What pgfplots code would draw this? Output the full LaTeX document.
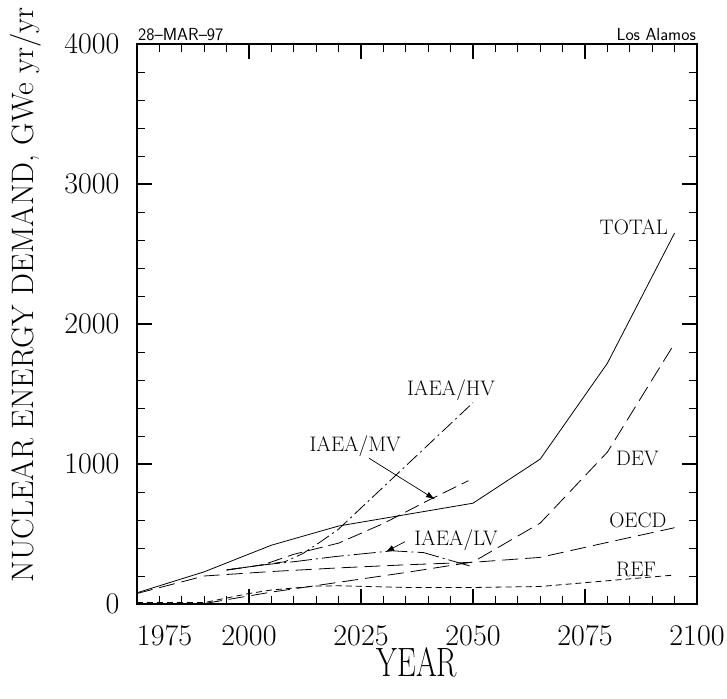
\documentclass[border=0pt]{standalone}
\usepackage{pgfplots}
\pgfplotsset{compat=1.18}
\usepackage{graphicx}
\usetikzlibrary{arrows.meta}
\newcommand\lab[1]{{\fontsize{21}{21}\selectfont #1}}
\begin{document}
\begin{tikzpicture}
\useasboundingbox (-137pt,-94pt) rectangle (590pt,604pt);
\begin{axis}[
  at={(0pt,0pt)}, anchor=south west,
  width=560pt, height=560pt, scale only axis,
  xmin=1975, xmax=2100, ymin=0, ymax=4000,
  xtick={1975,2000,2025,2050,2075,2100},
  xticklabels={\makebox[0pt][l]{1975},2000,2025,2050,2075,2100},
  ytick={0,1000,2000,3000,4000},
  minor x tick num=4, minor y tick num=4,
  major tick length=15pt, minor tick length=8pt,
  tick align=inside,
  major tick style={line width=1.3pt, black},
  minor tick style={line width=0.8pt, black},
  axis line style={line width=1.1pt},
  ticklabel style={font=\fontsize{30}{30}\selectfont},
  xticklabel style={yshift=-18pt},
  yticklabel style={xshift=-14pt},
  /pgf/number format/assume math mode=true,
  /pgf/number format/1000 sep={},
  scaled ticks=false,
  xlabel={\scalebox{0.73}[1]{\fontsize{41}{41}\selectfont YEAR}},
  xlabel style={at={(axis description cs:0.5,-0.105)}, anchor=center},
  ylabel={\fontsize{31}{31}\selectfont NUCLEAR ENERGY DEMAND, GWe yr/yr},
  ylabel style={at={(axis description cs:-0.198,0.552)}, anchor=center},
  clip=false,
]
% TOTAL
\addplot[black, line width=0.8pt] coordinates {
(1975,80) (1990,230) (2005,420) (2020,557) (2050,720) (2065,1035) (2080,1720) (2095,2650)};
% DEV
\addplot[black, line width=0.8pt, dash pattern=on 16pt off 7pt] coordinates {
(1975,3) (1990,3) (2005,85) (2020,155) (2035,225) (2050,300) (2065,578) (2080,1085) (2095,1862)};
% OECD
\addplot[black, line width=0.8pt, dash pattern=on 16pt off 7pt] coordinates {
(1975,75) (1990,200) (2005,232) (2020,258) (2035,280) (2050,298) (2065,333) (2080,440) (2095,545)};
% REF
\addplot[black, line width=0.8pt, dash pattern=on 6pt off 4pt] coordinates {
(1975,10) (1990,10) (2000,75) (2005,100) (2015,128) (2020,130) (2035,118) (2050,118) (2065,125) (2080,166) (2095,207)};
% IAEA/HV
\addplot[black, line width=0.8pt, dash pattern=on 14pt off 4pt on 2pt off 4pt] coordinates {
(1995,243) (2003,279) (2008,302) (2012,360) (2016,445) (2020,535) (2050,1438)};
% IAEA/MV
\addplot[black, line width=0.8pt, dash pattern=on 15pt off 6pt] coordinates {
(1995,243) (2003,279) (2010,355) (2020,435) (2030,575) (2040,740) (2049,881)};
% IAEA/LV
\addplot[black, line width=0.8pt, dash pattern=on 22pt off 4pt on 2pt off 4pt] coordinates {
(1995,243) (2003,279) (2010,302) (2019,338) (2032,380) (2039,367) (2050,265)};

\node at (axis cs:2085.9,2693) {\lab{TOTAL}};
\node at (axis cs:2086.7,1036) {\lab{DEV}};
\node at (axis cs:2086.8,600) {\lab{OECD}};
\node at (axis cs:2086.4,250) {\lab{REF}};
\node at (axis cs:2045.1,1529) {\lab{IAEA/HV}};
\node at (axis cs:2023.7,1129) {\lab{IAEA/MV}};
\node at (axis cs:2046.2,454) {\lab{IAEA/LV}};
\draw[-{Latex[length=9pt,width=6pt]}, line width=0.7pt] (axis cs:2026.8,1041) -- (axis cs:2041.5,748);
\draw[-{Latex[length=8pt,width=6pt]}, line width=0.7pt] (axis cs:2034.8,445) -- (axis cs:2030.6,374);
\node[anchor=south west, font=\sffamily\fontsize{17.5}{17.5}\selectfont, inner sep=1pt, yshift=2pt] at (rel axis cs:0,1) {28--MAR--97};
\node[anchor=south east, font=\sffamily\fontsize{17.5}{17.5}\selectfont, inner sep=1pt, yshift=2pt] at (rel axis cs:1,1) {Los Alamos};
\end{axis}
\end{tikzpicture}
\end{document}
